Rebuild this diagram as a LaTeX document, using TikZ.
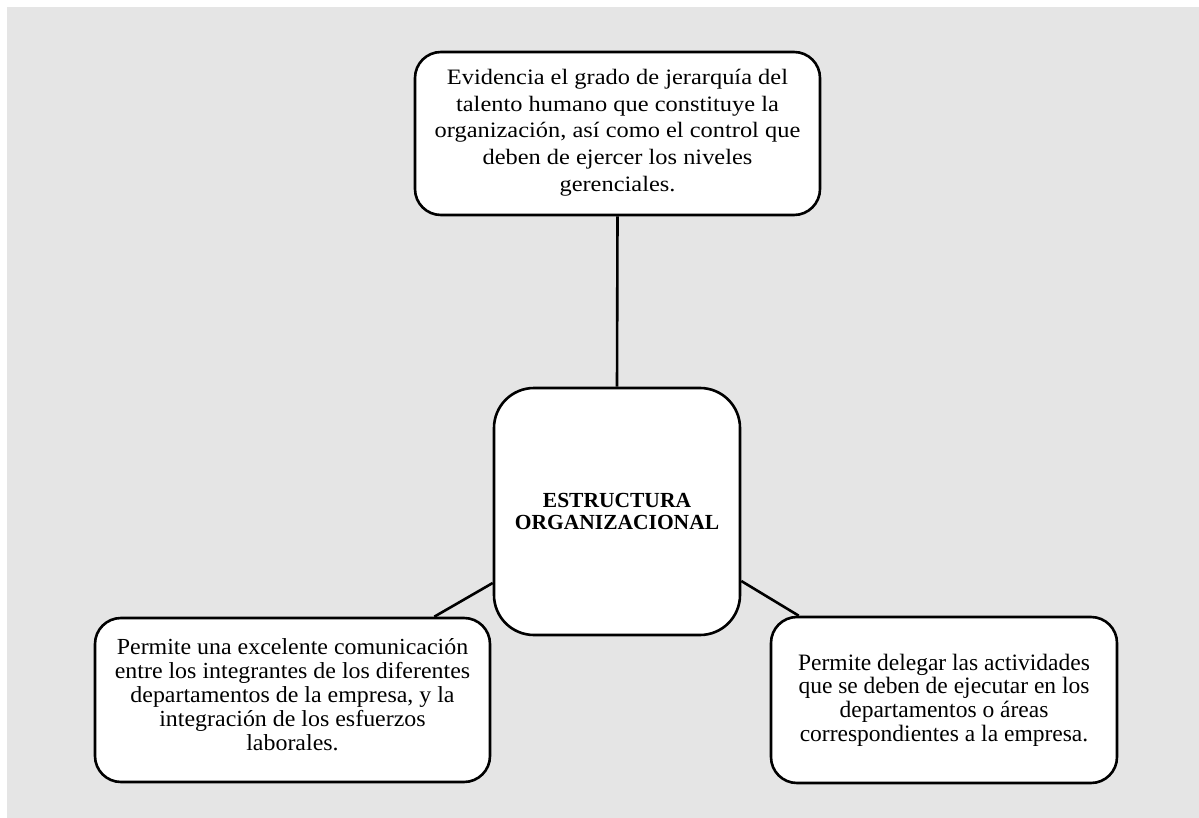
\documentclass[tikz,border=0pt]{standalone}
\usepackage{fontspec}
\setmainfont{Liberation Serif}
\newfontfamily\widefontA[FakeStretch=1.11]{Liberation Serif}
\newfontfamily\widefontB[FakeStretch=1.04]{Liberation Serif}
\begin{document}
\begin{tikzpicture}[x=1pt,y=-1pt,
  card/.style={draw=black,line width=2.6pt,fill=white,rounded corners=26pt,inner sep=0pt},
  cardtext/.style={align=center,inner sep=0pt},
  link/.style={draw=black,line width=2.6pt}]
  \useasboundingbox (0,0) rectangle (1199,818);
  \fill[white] (0,0) rectangle (1199,818);
  \fill[gray!20!white] (7,7) rectangle (1199,818);
  % boxes
  \node[card,minimum width=405pt,minimum height=163pt] (top) at (617.5,133.5) {};
  \node[cardtext,font=\widefontA\fontsize{22}{26.7}\selectfont] (toptext) at ([yshift=1pt]top.center)
    {Evidencia el grado de jerarquía del\\talento humano que constituye la\\organización, así como el control que\\deben de ejercer los niveles\\gerenciales.};
  \node[card,rounded corners=40pt,minimum width=246pt,minimum height=247pt] (mid) at (617,511.5) {};
  \node[cardtext,font=\fontsize{21.5}{22}\selectfont\bfseries] (midtext) at (mid.center)
    {ESTRUCTURA\\ORGANIZACIONAL};
  \node[card,minimum width=395pt,minimum height=164pt] (left) at (292.5,700) {};
  \node[cardtext,font=\widefontB\fontsize{23}{24}\selectfont] (lefttext) at ([yshift=5pt]left.center)
    {Permite una excelente comunicación\\entre los integrantes de los diferentes\\departamentos de la empresa, y la\\integración de los esfuerzos\\laborales.};
  \node[card,minimum width=346pt,minimum height=166pt] (right) at (944,700) {};
  \node[cardtext,font=\fontsize{23.5}{23.7}\selectfont] (righttext) at (right.center)
    {Permite delegar las actividades\\que se deben de ejecutar en los\\departamentos o áreas\\correspondientes a la empresa.};
  % connectors
  \draw[link] (top.south) -- (mid.north);
  \draw[link] ([xshift=-57pt]left.north east) -- ([yshift=-71.5pt]mid.west);
  \draw[link] ([yshift=-69.5pt]mid.east) -- ([xshift=29pt]right.north west);
\end{tikzpicture}
\end{document}
